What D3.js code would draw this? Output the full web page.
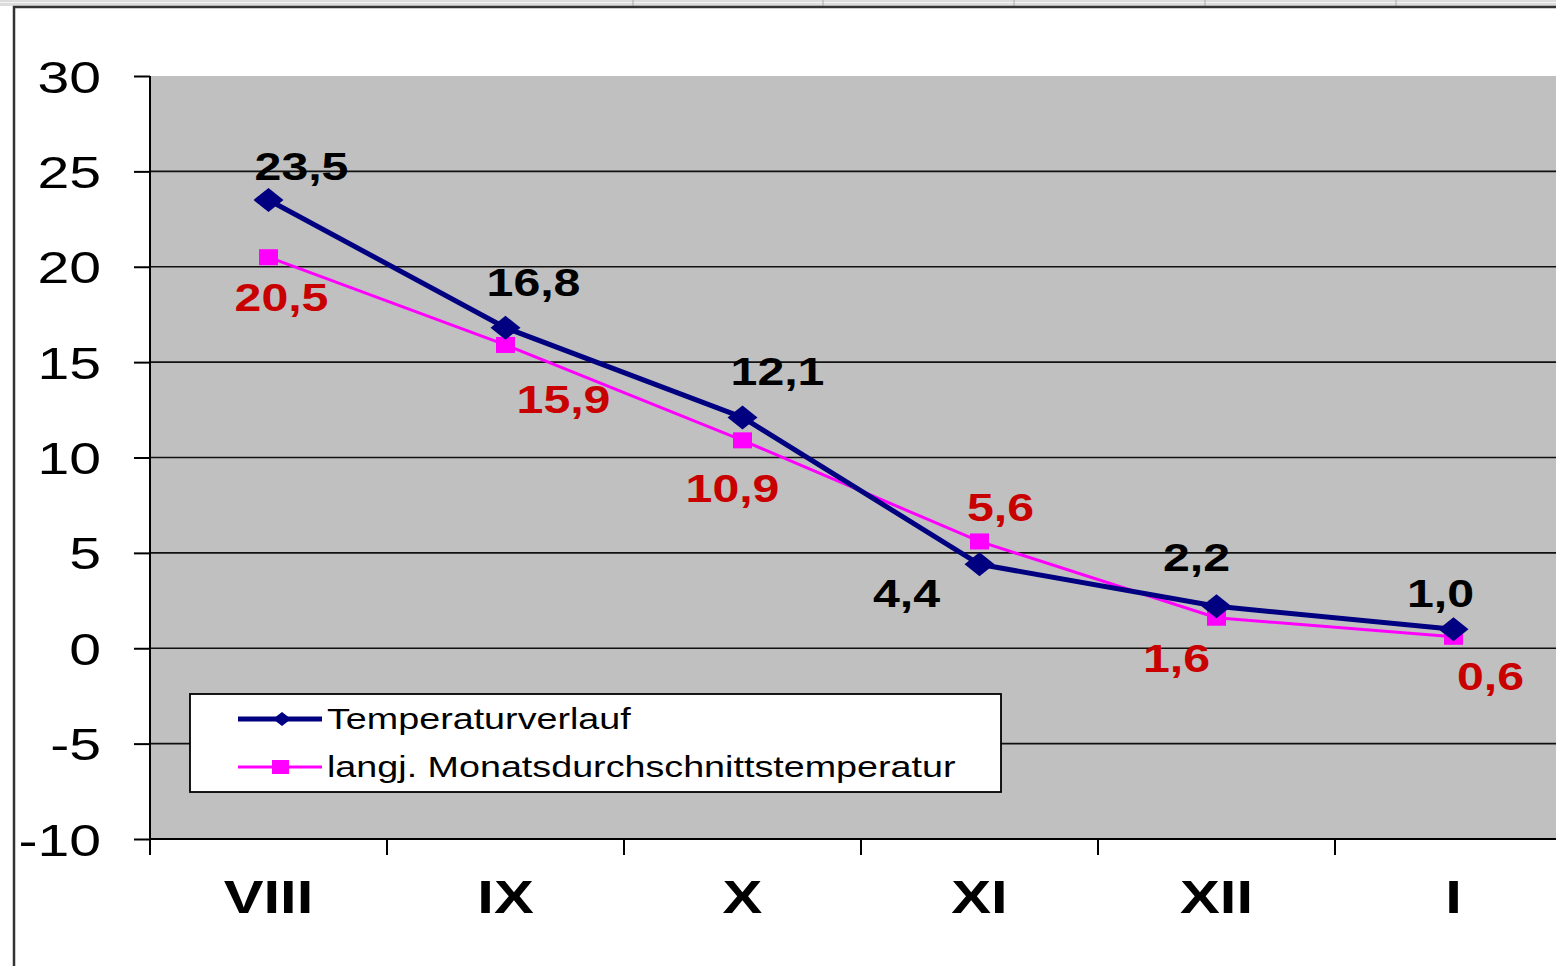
<!DOCTYPE html>
<html>
<head>
<meta charset="utf-8">
<script src="https://cdn.jsdelivr.net/npm/d3@7"></script>
<style>
  html, body { margin: 0; padding: 0; background: #fff; }
  svg { display: block; }
  text { font-family: "Liberation Sans", Arial, sans-serif; }
</style>
</head>
<body>
<svg id="chart" width="1556" height="966"></svg>
<script>
// Monate (August bis Januar)
const months = ["VIII", "IX", "X", "XI", "XII", "I"];
// Temperaturverlauf (°C)
const tempActual = [23.5, 16.8, 12.1, 4.4, 2.2, 1.0];
// langjährige Monatsdurchschnittstemperatur (°C)
const tempLongTerm = [20.5, 15.9, 10.9, 5.6, 1.6, 0.6];
// Y-Achsen-Beschriftung
const yTicks = [30, 25, 20, 15, 10, 5, 0, -5, -10];
const seriesNames = ["Temperaturverlauf", "langj. Monatsdurchschnittstemperatur"];

// Label placement (pixel offsets from each point: [dx, dy])
const actualLabelOffsets = [[33, -20], [28, -32], [35, -32], [-73, 43], [-20, -35], [-13, -22]];
const longTermLabelOffsets = [[13, 54], [58, 68], [-10, 62], [21, -20], [-40, 54], [37, 53]];

const SX = 1.27;               // horizontal text stretch
const fmt = v => v.toFixed(1).replace(".", ",");

const svg = d3.select("#chart");

// spreadsheet strip along the top edge
svg.append("rect").attr("x", 0).attr("y", 0).attr("width", 1556).attr("height", 6).attr("fill", "#dcdcdc");
svg.append("line").attr("x1", 0).attr("x2", 1556).attr("y1", 2.5).attr("y2", 2.5).attr("stroke", "#f4f4f4").attr("stroke-width", 1);
[633, 823, 1014, 1205, 1396].forEach(sx => {
  svg.append("line").attr("x1", sx).attr("x2", sx).attr("y1", 0).attr("y2", 6).attr("stroke", "#bdbdbd").attr("stroke-width", 1.5);
});
// chart area border
svg.append("line").attr("x1", 13).attr("x2", 1556).attr("y1", 7).attr("y2", 7).attr("stroke", "#333").attr("stroke-width", 2.5);
svg.append("line").attr("x1", 14).attr("x2", 14).attr("y1", 6).attr("y2", 966).attr("stroke", "#333").attr("stroke-width", 2.5);

const plotLeft = 150, plotTop = 76, plotBottom = 839, band = 237;
const x = d3.scaleBand().domain(months).range([plotLeft, plotLeft + band * months.length]);
const y = d3.scaleLinear().domain([-10, 30]).range([plotBottom, plotTop]);
const cx = m => x(m) + x.bandwidth() / 2;

// plot area
svg.append("rect").attr("x", plotLeft).attr("y", plotTop)
  .attr("width", x.range()[1] - plotLeft).attr("height", plotBottom - plotTop).attr("fill", "#c0c0c0");

// gridlines
svg.append("g").selectAll("line").data(yTicks.filter(v => v > -10 && v < 30)).join("line")
  .attr("x1", plotLeft).attr("x2", x.range()[1])
  .attr("y1", d => y(d)).attr("y2", d => y(d))
  .attr("stroke", "#111").attr("stroke-width", 1.6);

// y axis
const yAxis = svg.append("g").attr("transform", `translate(${plotLeft},0)`)
  .call(d3.axisLeft(y).tickValues(yTicks).tickSize(16).tickFormat(d => String(d)));
yAxis.select(".domain").attr("stroke", "#000").attr("stroke-width", 2).attr("d", `M0,${plotTop}V${plotBottom}`);
yAxis.selectAll(".tick line").attr("stroke", "#000").attr("stroke-width", 2);
yAxis.selectAll(".tick text").remove();
yAxis.selectAll(".tick").append("text")
  .attr("transform", `translate(-49,16) scale(${SX},1)`)
  .attr("text-anchor", "end").attr("fill", "#000")
  .attr("font-size", 45).attr("font-family", "Liberation Sans, Arial, sans-serif")
  .text(d => String(d));

// x axis
svg.append("line").attr("x1", plotLeft).attr("x2", x.range()[1]).attr("y1", plotBottom).attr("y2", plotBottom)
  .attr("stroke", "#000").attr("stroke-width", 2);
svg.append("g").selectAll("line").data(months).join("line")
  .attr("x1", d => x(d)).attr("x2", d => x(d)).attr("y1", plotBottom).attr("y2", plotBottom + 16)
  .attr("stroke", "#000").attr("stroke-width", 2);
svg.append("g").selectAll("text").data(months).join("text")
  .attr("transform", d => `translate(${cx(d)},913) scale(${SX},1)`)
  .attr("text-anchor", "middle").attr("font-weight", "bold").attr("font-size", 47)
  .attr("fill", "#000").text(d => d);

// series lines
const lineGen = d3.line().x((d, i) => cx(months[i])).y(d => y(d));
svg.append("path").datum(tempLongTerm).attr("d", lineGen)
  .attr("fill", "none").attr("stroke", "#ff00ff").attr("stroke-width", 3);
svg.append("path").datum(tempActual).attr("d", lineGen)
  .attr("fill", "none").attr("stroke", "#000080").attr("stroke-width", 5).attr("stroke-linejoin", "round");

// markers
const diamond = "M0,-12L15,0L0,12L-15,0Z";
svg.append("g").selectAll("rect").data(tempLongTerm).join("rect")
  .attr("x", (d, i) => cx(months[i]) - 9.5).attr("y", d => y(d) - 8)
  .attr("width", 19).attr("height", 16).attr("fill", "#ff00ff");
svg.append("g").selectAll("path").data(tempActual).join("path")
  .attr("transform", (d, i) => `translate(${cx(months[i])},${y(d)})`)
  .attr("d", diamond).attr("fill", "#000080");

// data labels
svg.append("g").selectAll("text").data(tempActual).join("text")
  .attr("transform", (d, i) => `translate(${cx(months[i]) + actualLabelOffsets[i][0]},${y(d) + actualLabelOffsets[i][1]}) scale(${SX},1)`)
  .attr("text-anchor", "middle").attr("font-weight", "bold").attr("font-size", 38)
  .attr("fill", "#000").text(fmt);
svg.append("g").selectAll("text").data(tempLongTerm).join("text")
  .attr("transform", (d, i) => `translate(${cx(months[i]) + longTermLabelOffsets[i][0]},${y(d) + longTermLabelOffsets[i][1]}) scale(${SX},1)`)
  .attr("text-anchor", "middle").attr("font-weight", "bold").attr("font-size", 38)
  .attr("fill", "#c80000").text(fmt);

// legend
const lg = svg.append("g");
lg.append("rect").attr("x", 190).attr("y", 694).attr("width", 811).attr("height", 98)
  .attr("fill", "#fff").attr("stroke", "#000").attr("stroke-width", 1.8);
const legendRows = [
  { name: seriesNames[0], color: "#000080", width: 5, marker: "diamond", y: 719 },
  { name: seriesNames[1], color: "#ff00ff", width: 3, marker: "square", y: 767 }
];
legendRows.forEach(r => {
  lg.append("line").attr("x1", 238).attr("x2", 322).attr("y1", r.y).attr("y2", r.y)
    .attr("stroke", r.color).attr("stroke-width", r.width);
  if (r.marker === "diamond") {
    lg.append("path").attr("d", "M0,-7L9,0L0,7L-9,0Z").attr("transform", `translate(282,${r.y})`).attr("fill", r.color);
  } else {
    lg.append("rect").attr("x", 272).attr("y", r.y - 7).attr("width", 17).attr("height", 14).attr("fill", r.color);
  }
  lg.append("text").attr("transform", `translate(327,${r.y + 10}) scale(1.3,1)`)
    .attr("font-size", 29).attr("fill", "#000").text(r.name);
});
</script>
</body>
</html>
